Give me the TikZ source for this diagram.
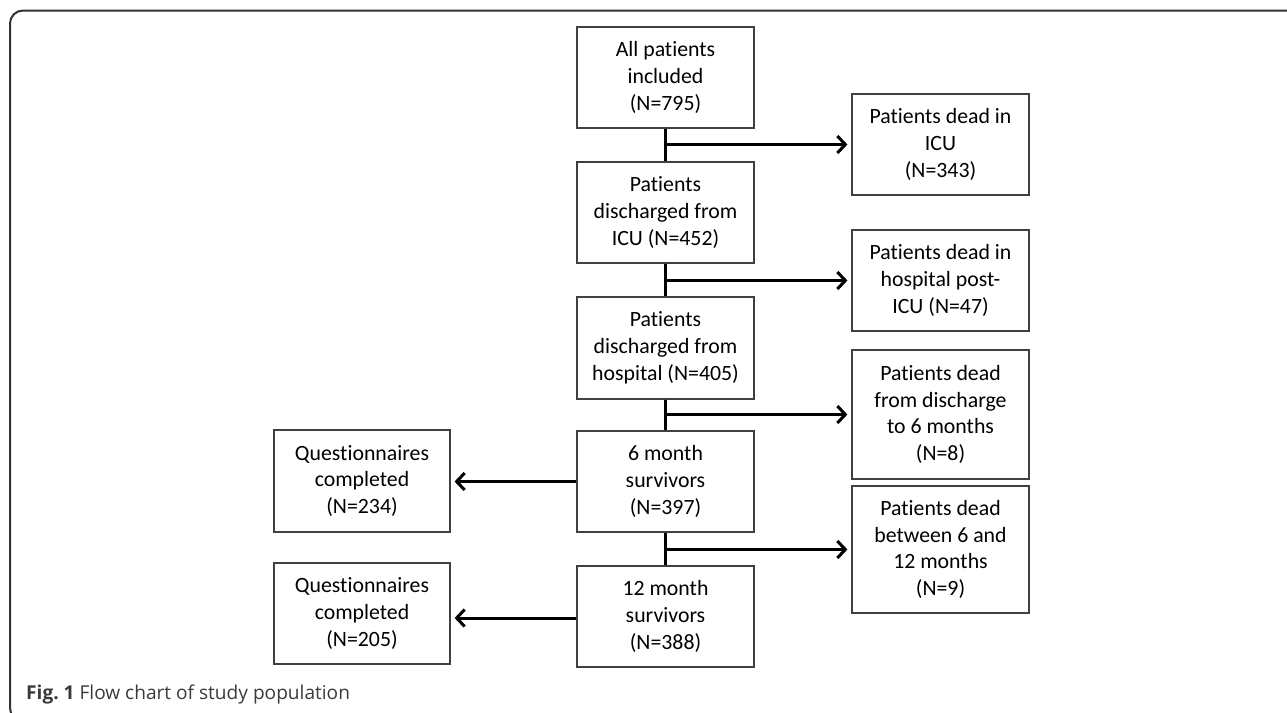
\documentclass[tikz,border=0pt]{standalone}
\usepackage{fontspec}
\setmainfont{Carlito}[RawFeature={-liga;-clig;-dlig;-calt}]
\newfontfamily\capfont{Open Sans}
\usetikzlibrary{arrows.meta}
\newcommand\tiSep{t\kern0pt i}
\definecolor{boxline}{HTML}{404040}
\definecolor{frameline}{HTML}{333333}
\definecolor{captext}{HTML}{3A3A3A}
\begin{document}
\begin{tikzpicture}[x=1pt,y=-1pt,
  flowbox/.style={draw=boxline,line width=1.2pt,rectangle,inner sep=0pt,
    align=center,font=\fontsize{21.8}{26.8}\selectfont,text=black},
  mainbox/.style={flowbox,minimum width=177pt,minimum height=101pt},
  sidebox/.style={flowbox,minimum width=177pt},
  qbox/.style={flowbox,minimum width=176pt,minimum height=101pt},
  link/.style={line width=3pt,black},
  flowarrow/.style={link,-{Straight Barb[length=8pt,width=17pt]},shorten >=4pt}
]
\useasboundingbox (0,0) rectangle (1287,712);
\begin{scope}
\clip (0,0) rectangle (1287,712);
\draw[frameline,line width=2pt,rounded corners=13pt] (1300,10.5) -- (10,10.5) -- (10,721) -- (1300,721);
\end{scope}

\node[mainbox] (B1) at (665.5,77.5) {All pa\tiSep ents\\included\\(N=795)};
\node[mainbox] (B2) at (665.5,212.5) {Pa\tiSep ents\\discharged from\\ICU (N=452)};
\node[mainbox,minimum height=102pt] (B3) at (665.5,348) {Pa\tiSep ents\\discharged from\\hospital (N=405)};
\node[mainbox] (B4) at (665.5,481.5) {6 month\\survivors\\(N=397)};
\node[mainbox] (B5) at (665.5,616.5) {12 month\\survivors\\(N=388)};

\node[sidebox,minimum height=101pt] (R1) at (940.5,144.5) {Pa\tiSep ents dead in\\ICU\\(N=343)};
\node[sidebox,minimum height=101pt] (R2) at (940.5,280.5) {Pa\tiSep ents dead in\\hospital post-\\ICU (N=47)};
\node[sidebox,minimum height=129pt] (R3) at (940.5,414.5) {Pa\tiSep ents dead\\from discharge\\to 6 months\\(N=8)};
\node[sidebox,minimum height=127pt] (R4) at (940.5,549.5) {Pa\tiSep ents dead\\between 6 and\\12 months\\(N=9)};

\node[qbox,minimum height=102pt] (Q1) at (362,481) {Ques\tiSep onnaires\\completed\\(N=234)};
\node[qbox] (Q2) at (362,613.5) {Ques\tiSep onnaires\\completed\\(N=205)};

\draw[link] (B1.south) -- (B2.north);
\draw[link] (B2.south) -- (B3.north);
\draw[link] (B3.south) -- (B4.north);
\draw[link] (B4.south) -- (B5.north);

\coordinate (j1) at (B1.south |- R1.west);
\coordinate (j2) at (B2.south |- R2.west);
\coordinate (j3) at (B3.south |- R3.west);
\coordinate (j4) at (B4.south |- R4.west);
\draw[flowarrow] ([xshift=-1.5pt]j1) -- (R1.west);
\draw[flowarrow] ([xshift=-1.5pt]j2) -- (R2.west);
\draw[flowarrow] ([xshift=-1.5pt]j3) -- (R3.west);
\draw[flowarrow] ([xshift=-1.5pt]j4) -- (R4.west);

\draw[flowarrow] (B4.west) -- (B4.west -| Q1.east);
\draw[flowarrow] ([yshift=-1.5pt]B5.west) -- ([yshift=-1.5pt]B5.west -| Q2.east);

\node[anchor=base west,inner sep=0pt,font=\capfont\fontsize{19.1}{22}\selectfont,text=captext] (cap) at (26,699) {\textbf{Fig.\ 1} Flow chart of study population};
\end{tikzpicture}
\end{document}
